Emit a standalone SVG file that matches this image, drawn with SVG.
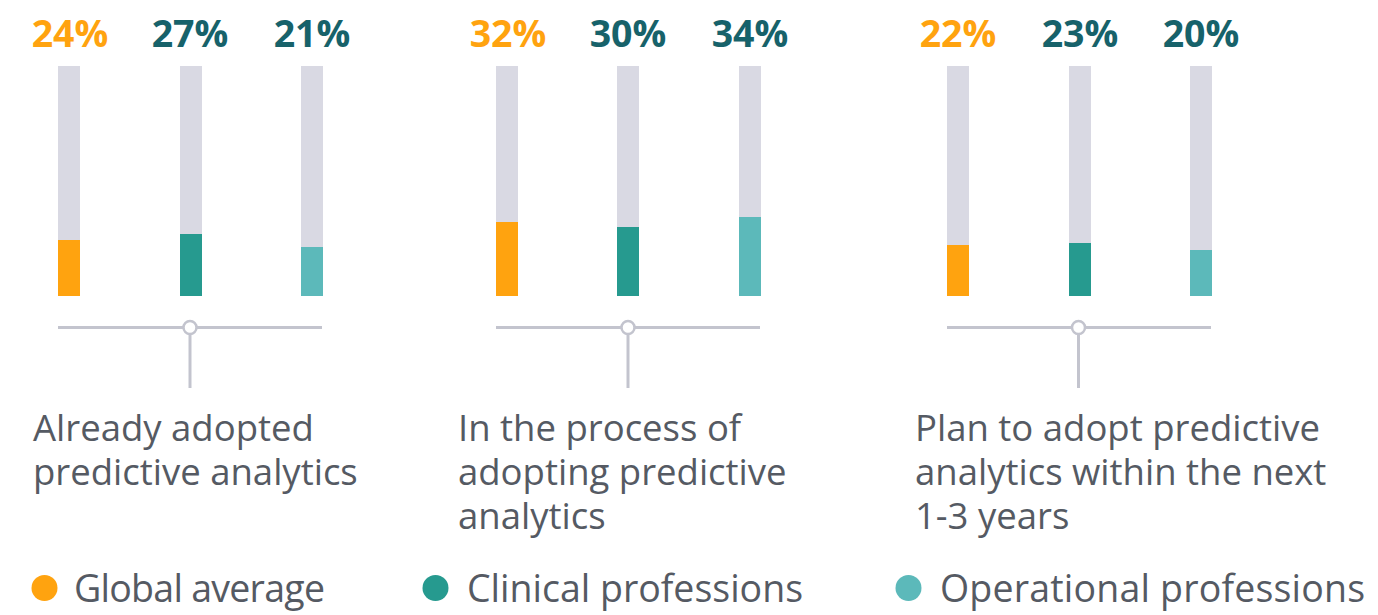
<svg xmlns="http://www.w3.org/2000/svg" width="1378" height="615" viewBox="0 0 1378 615">
<style>
.pct{font-family:"Open Sans","Liberation Sans",sans-serif;font-weight:700;font-size:37.5px;text-anchor:middle}
.o{fill:#FFA30F}
.d{fill:#17626A}
.track{fill:#D9D9E3}
.avg{fill:#FFA30F}
.cli{fill:#269A8F}
.ope{fill:#5CB9BA}
.lbl{font-family:"Open Sans","Liberation Sans",sans-serif;font-size:36.5px;fill:#555A63}
.leg{font-family:"Open Sans","Liberation Sans",sans-serif;font-size:37.5px;fill:#555A63}
.ln{stroke:#C3C4CE;stroke-width:3;fill:none}
.knob{stroke:#C3C4CE;stroke-width:2.5;fill:#fff}
</style>
<rect width="1378" height="615" fill="#fff"/>
<g id="group-already">
<text class="pct o" x="70" y="47">24%</text>
<text class="pct d" x="190" y="47">27%</text>
<text class="pct d" x="312" y="47">21%</text>
<rect class="track" x="58" y="66" width="22" height="230"/>
<rect class="avg" x="58" y="240" width="22" height="56"/>
<rect class="track" x="180" y="66" width="22" height="230"/>
<rect class="cli" x="180" y="234" width="22" height="62"/>
<rect class="track" x="301" y="66" width="22" height="230"/>
<rect class="ope" x="301" y="247" width="22" height="49"/>
<text class="lbl" x="33" y="441">Already adopted</text>
<text class="lbl" x="33" y="485">predictive analytics</text>
</g>
<g id="group-process">
<text class="pct o" x="508" y="47">32%</text>
<text class="pct d" x="628" y="47">30%</text>
<text class="pct d" x="750" y="47">34%</text>
<rect class="track" x="496" y="66" width="22" height="230"/>
<rect class="avg" x="496" y="222" width="22" height="74"/>
<rect class="track" x="617" y="66" width="22" height="230"/>
<rect class="cli" x="617" y="227" width="22" height="69"/>
<rect class="track" x="739" y="66" width="22" height="230"/>
<rect class="ope" x="739" y="217" width="22" height="79"/>
<text class="lbl" x="458" y="441">In the process of</text>
<text class="lbl" x="458" y="485">adopting predictive</text>
<text class="lbl" x="458" y="529">analytics</text>
</g>
<g id="group-plan">
<text class="pct o" x="958" y="47">22%</text>
<text class="pct d" x="1080" y="47">23%</text>
<text class="pct d" x="1201" y="47">20%</text>
<rect class="track" x="947" y="66" width="22" height="230"/>
<rect class="avg" x="947" y="245" width="22" height="51"/>
<rect class="track" x="1069" y="66" width="22" height="230"/>
<rect class="cli" x="1069" y="243" width="22" height="53"/>
<rect class="track" x="1190" y="66" width="22" height="230"/>
<rect class="ope" x="1190" y="250" width="22" height="46"/>
<text class="lbl" x="915" y="441">Plan to adopt predictive</text>
<text class="lbl" x="915" y="485">analytics within the next</text>
<text class="lbl" x="915" y="529">1-3 years</text>
</g>
<g id="connectors">
<line class="ln" x1="58" y1="327.5" x2="322" y2="327.5"/>
<line class="ln" x1="190" y1="334" x2="190" y2="388"/>
<circle class="knob" cx="190" cy="327.5" r="6.5"/>
<line class="ln" x1="496" y1="327.5" x2="760" y2="327.5"/>
<line class="ln" x1="628" y1="334" x2="628" y2="388"/>
<circle class="knob" cx="628" cy="327.5" r="6.5"/>
<line class="ln" x1="947" y1="327.5" x2="1211" y2="327.5"/>
<line class="ln" x1="1078.5" y1="334" x2="1078.5" y2="388"/>
<circle class="knob" cx="1078.5" cy="327.5" r="6.5"/>
</g>
<g id="legend">
<circle class="avg" cx="44.5" cy="588" r="13"/>
<text class="leg" x="74" y="602" textLength="251" lengthAdjust="spacing">Global average</text>
<circle class="cli" cx="435.5" cy="588" r="13"/>
<text class="leg" x="467" y="602" textLength="336" lengthAdjust="spacing">Clinical professions</text>
<circle class="ope" cx="908.5" cy="588" r="13"/>
<text class="leg" x="940" y="602" textLength="425" lengthAdjust="spacing">Operational professions</text>
</g>
</svg>
